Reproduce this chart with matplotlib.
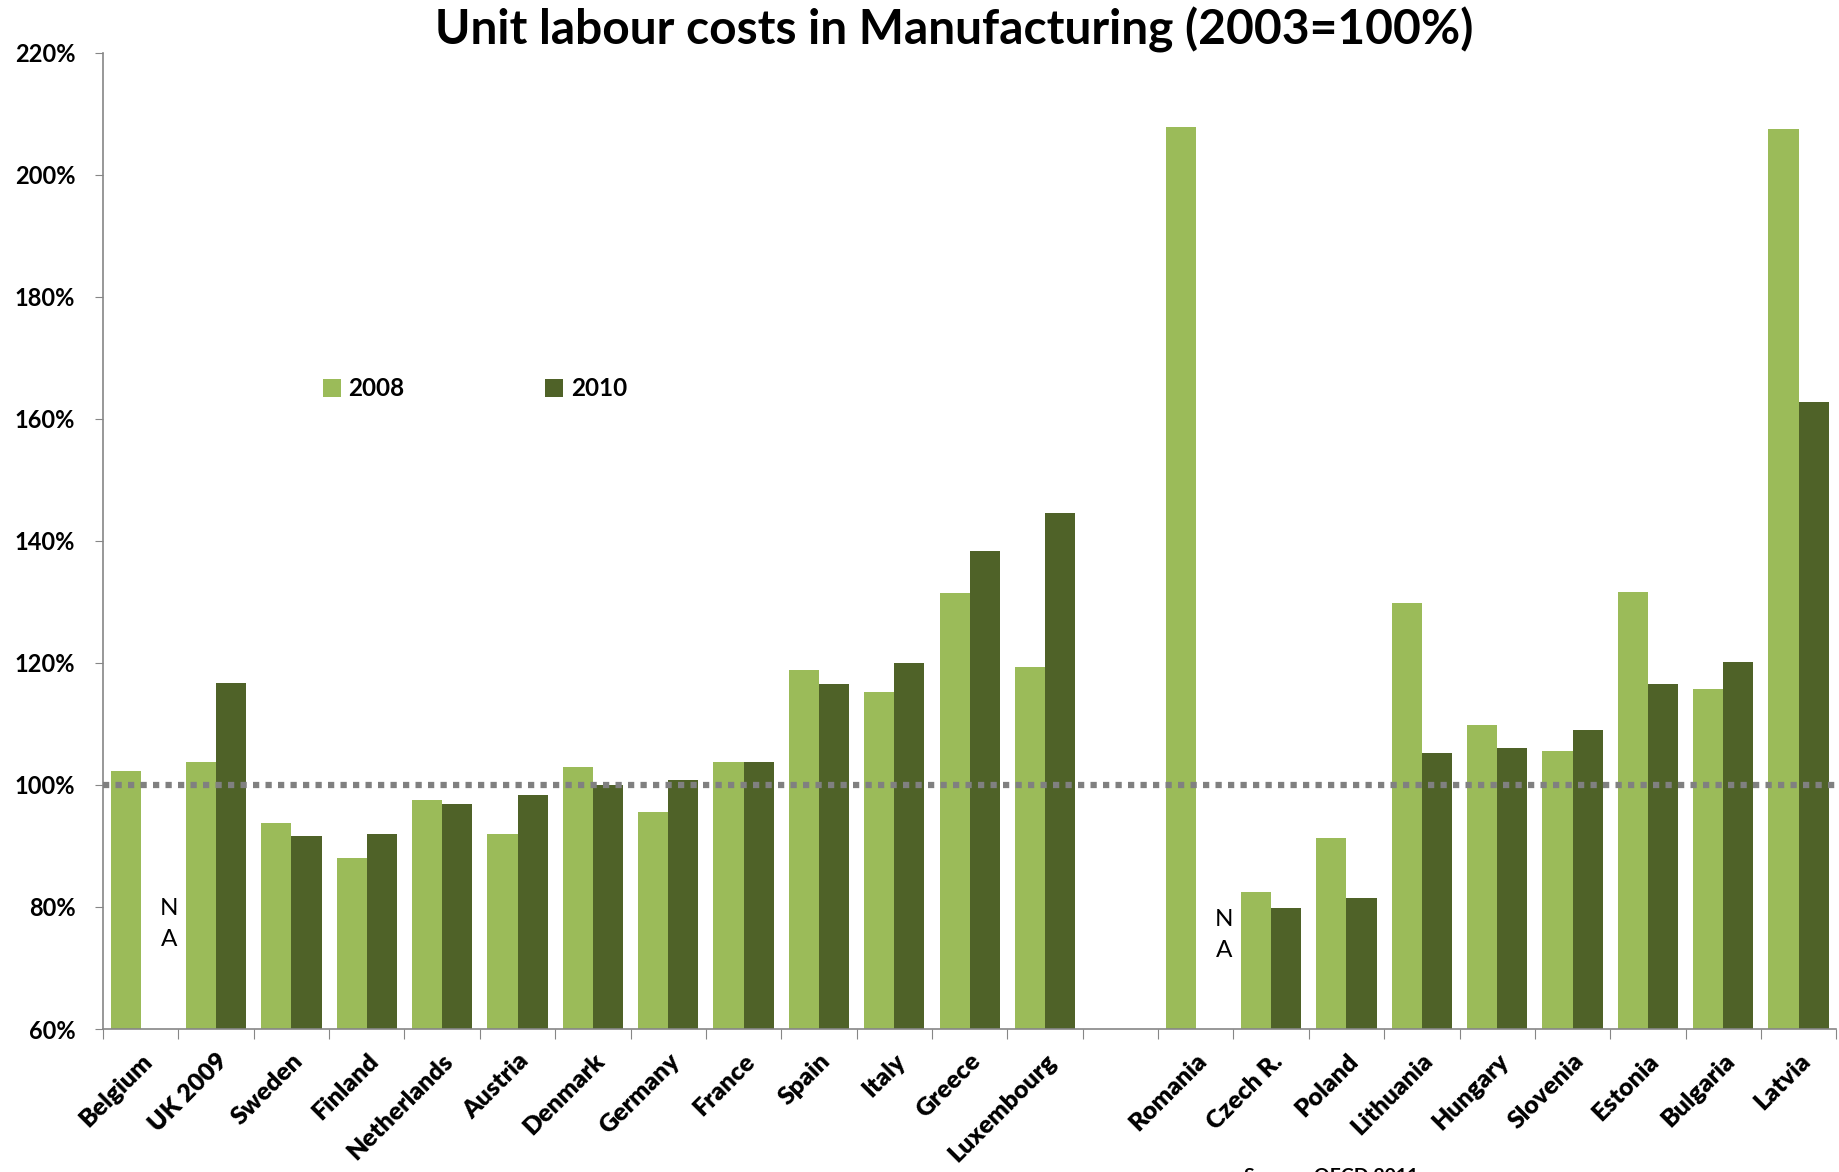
import numpy as np
import matplotlib
matplotlib.use("Agg")
import matplotlib.pyplot as plt

plt.rcParams['font.family'] = ['Lato', 'DejaVu Sans']

# Datos (el hueco vacío separa los dos grupos de países)
paises = ['Belgium', 'UK 2009', 'Sweden', 'Finland', 'Netherlands', 'Austria',
          'Denmark', 'Germany', 'France', 'Spain', 'Italy', 'Greece', 'Luxembourg',
          '',
          'Romania', 'Czech R.', 'Poland', 'Lithuania', 'Hungary', 'Slovenia',
          'Estonia', 'Bulgaria', 'Latvia']
v2008 = [102.3, 103.7, 93.7, 88.1, 97.5, 91.9, 102.9, 95.6, 103.7, 118.8, 115.2, 131.5, 119.4,
         np.nan,
         207.9, 82.5, 91.3, 129.8, 109.8, 105.6, 131.7, 115.8, 207.5]
v2010 = [np.nan, 116.7, 91.7, 91.9, 96.9, 98.3, 100.0, 100.8, 103.8, 116.5, 120.0, 138.3, 144.6,
         np.nan,
         np.nan, 79.8, 81.5, 105.2, 106.0, 109.0, 116.5, 120.2, 162.7]
sin_dato = ['Belgium', 'Romania']
yticks = [60, 80, 100, 120, 140, 160, 180, 200, 220]

verde_claro = '#9bbb59'
verde_oscuro = '#4f6228'

fig = plt.figure(figsize=(18.4, 11.72), dpi=100)
ax = fig.add_axes([0.056, 0.122, 0.942, 0.833])

x = np.arange(len(paises))
ancho = 0.4
ax.bar(x - ancho / 2, np.array(v2008) - 60, ancho, bottom=60, color=verde_claro, label='2008')
ax.bar(x + ancho / 2, np.array(v2010) - 60, ancho, bottom=60, color=verde_oscuro, label='2010')

# línea de referencia 100%
ax.axhline(100, color='#808080', linestyle=(0, (1, 1)), linewidth=4.5, zorder=3)

# N/A
for p, yy in zip(sin_dato, [77.2, 75.4]):
    i = paises.index(p)
    ax.text(i + 0.38, yy, 'N\nA', fontsize=17.5, ha='center', va='center', linespacing=1.6)

ax.set_xlim(-0.5, len(paises) - 0.5)
ax.set_ylim(60, 220)
ax.set_yticks(yticks)
ax.set_yticklabels(['%d%%' % t for t in yticks], fontsize=17, fontweight='bold')
ax.set_xticks(np.arange(len(paises) + 1) - 0.5)
ax.set_xticklabels([])
ax.set_xticks(x, minor=True)
ax.set_xticklabels(paises, minor=True, rotation=45, ha='right', rotation_mode='anchor',
                   fontsize=18, fontweight='heavy')
ax.tick_params(axis='x', which='minor', length=0, pad=15)
ax.tick_params(axis='x', which='major', length=7, color='#868686', direction='out')
ax.tick_params(axis='y', length=6, color='#868686', direction='out', pad=14)

for s in ['top', 'right']:
    ax.spines[s].set_visible(False)
for s in ['left', 'bottom']:
    ax.spines[s].set_color('#868686')
    ax.spines[s].set_linewidth(1.2)

ax.set_title('Unit labour costs in Manufacturing (2003=100%)', fontsize=34.5, fontweight='bold',
             pad=0, x=0.491)

leg = ax.legend(loc='center left', bbox_to_anchor=(0.114, 0.656), ncol=2, frameon=False,
                fontsize=17.5, handlelength=0.75, handleheight=0.75, handletextpad=0.3,
                columnspacing=5.8)
for t in leg.get_texts():
    t.set_fontweight('bold')

fig.text(0.676, -0.004, 'Source: OECD 2011', fontsize=14, fontweight='bold', va='center')

fig.savefig('out.png', dpi=100)
